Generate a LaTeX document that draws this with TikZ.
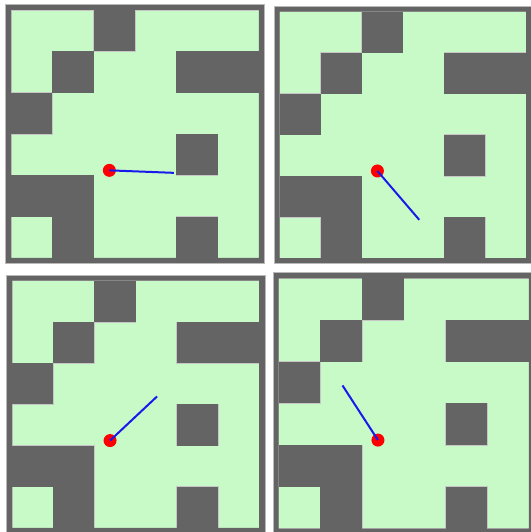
\documentclass[tikz,border=0pt]{standalone}
\definecolor{wall}{RGB}{100,100,100}
\definecolor{free}{RGB}{200,250,200}
\definecolor{raycol}{RGB}{25,25,235}
\tikzset{
  wallcell/.style={fill=wall, draw=gray!45, line width=0.8pt},
  wallfill/.style={fill=wall},
  frameline/.style={draw=gray!55, line width=0.5pt},
  rayline/.style={draw=raycol, line width=2pt},
  robot/.style={circle, fill=red, inner sep=0pt, minimum size=13pt},
}
\newcommand{\mazepanel}[7]{%
  \begin{scope}[shift={(#1,#2)}, x=#3pt, y=-#3pt]
    \fill[free] (0,0) rectangle (6,6);
    \draw[gray!45, line width=0.8pt] (0,0) rectangle (6,6);
    \foreach \c/\r in {2/0,1/1,4/1,5/1,0/2,4/3,0/4,1/4,1/5,4/5}
      \draw[wallcell] (\c,\r) rectangle ++(1,1);
    \foreach \c/\r in {2/0,1/1,4/1,5/1,0/2,4/3,0/4,1/4,1/5,4/5}
      \fill[wallfill] (\c,\r) rectangle ++(1,1);
    \fill[wall, even odd rule] (-0.135,-0.135) rectangle (6.135,6.135) (0,0) rectangle (6,6);
    \draw[frameline] (-0.135,-0.135) rectangle (6.135,6.135);
    \node[robot] (#6) at (2.38,3.88) {};
    \coordinate (#7) at (#4,#5);
    \draw[rayline] (#6.center) -- (#7);
  \end{scope}}
\begin{document}
\begin{tikzpicture}[x=1pt, y=-1pt]
  \fill[white] (0,0) rectangle (530,532);
  \useasboundingbox (0,0) rectangle (530,532);
  \mazepanel{11}{10}{41.33}{3.94}{3.94}{ra}{ea}
  \mazepanel{279.7}{11.7}{41.05}{3.40}{5.07}{rb}{eb}
  \mazepanel{12}{280.7}{41.2}{3.52}{2.81}{rc}{ec}
  \mazepanel{278.7}{278.3}{41.7}{1.53}{2.57}{rd}{ed}
\end{tikzpicture}
\end{document}
